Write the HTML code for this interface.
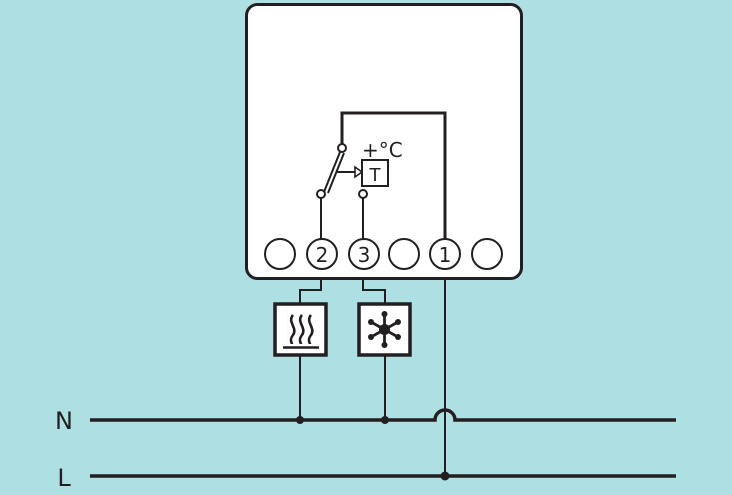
<!DOCTYPE html>
<html><head><style>
html,body{margin:0;padding:0;background:#addfe3;}
svg{display:block}
text{font-family:"DejaVu Sans","Liberation Sans",sans-serif;fill:#231f20}
</style></head><body>
<svg width="732" height="495" viewBox="0 0 732 495" xmlns="http://www.w3.org/2000/svg">
<rect width="732" height="495" fill="#addfe3"/>
<g stroke="#231f20" fill="none" stroke-linecap="butt">
<rect x="246.5" y="4.5" width="275" height="274" rx="11" fill="#fff" stroke-width="3"/>
<polyline points="342,148 342,113 445,113 445,239" stroke-width="3"/>
<line x1="321" y1="194" x2="321" y2="239" stroke-width="2"/>
<line x1="363" y1="194" x2="363" y2="239" stroke-width="2"/>
<line x1="340" y1="152" x2="324" y2="192" stroke-width="2"/>
<line x1="344" y1="153" x2="328" y2="193" stroke-width="2"/>
<circle cx="342" cy="148" r="4" fill="#fff" stroke-width="2"/>
<circle cx="321" cy="194" r="4" fill="#fff" stroke-width="2"/>
<circle cx="363" cy="194" r="4" fill="#fff" stroke-width="2"/>
<line x1="336" y1="172" x2="355" y2="172" stroke-width="2"/>
<polygon points="355,167 362,172 355,177" fill="#fff" stroke-width="1.6"/>
<rect x="362" y="160" width="26" height="26" fill="#fff" stroke-width="2"/>
<g stroke-width="2" fill="#fff">
<circle cx="280" cy="254" r="15"/><circle cx="322" cy="254" r="15"/><circle cx="364" cy="254" r="15"/>
<circle cx="404" cy="254" r="15"/><circle cx="445" cy="254" r="15"/><circle cx="487" cy="254" r="15"/>
</g>
<polyline points="321,278 321,290 300,290 300,420" stroke-width="2"/>
<polyline points="363,278 363,290 385,290 385,420" stroke-width="2"/>
<line x1="445" y1="278" x2="445" y2="476" stroke-width="2"/>
<path d="M90,420 H435 A10,10 0 0 1 455,420 H676" stroke-width="3.5"/>
<line x1="90" y1="476" x2="676" y2="476" stroke-width="3.5"/>
<rect x="275" y="304" width="51" height="51" fill="#fff" stroke-width="3.5"/>
<rect x="359" y="304" width="51" height="51" fill="#fff" stroke-width="3.5"/>
<g stroke-width="2.6">
<path d="M293,315 c-6,7 5,13 0,20 c-4,5 -1,8 -1,9"/>
<path d="M302,315 c-6,7 5,13 0,20 c-4,5 -1,8 -1,9"/>
<path d="M311,315 c-6,7 5,13 0,20 c-4,5 -1,8 -1,9"/>
<line x1="283" y1="347.5" x2="319" y2="347.5" stroke-width="2.6"/>
</g>
<g stroke-width="2.8">
<line x1="384.5" y1="314" x2="384.5" y2="345"/>
<line x1="371" y1="322" x2="398" y2="337"/>
<line x1="371" y1="337" x2="398" y2="322"/>
</g>
</g>
<g fill="#231f20">
<circle cx="384.5" cy="329.5" r="5.5"/>
<circle cx="384.5" cy="314" r="3"/><circle cx="384.5" cy="345" r="3"/>
<circle cx="371" cy="322" r="3"/><circle cx="398" cy="337" r="3"/>
<circle cx="371" cy="337" r="3"/><circle cx="398" cy="322" r="3"/>
<circle cx="300" cy="420" r="4"/><circle cx="385" cy="420" r="4"/><circle cx="445" cy="476" r="4.5"/>
</g>
<g font-size="20">
<text x="322" y="262" text-anchor="middle">2</text>
<text x="364" y="262" text-anchor="middle">3</text>
<text x="445" y="262" text-anchor="middle">1</text>
<text x="375" y="181" text-anchor="middle" font-size="18">T</text>
<text x="362" y="157" font-size="20">+°C</text>
<text x="64" y="429" text-anchor="middle" font-size="24">N</text>
<text x="64" y="486" text-anchor="middle" font-size="24">L</text>
</g>
</svg>
</body></html>
